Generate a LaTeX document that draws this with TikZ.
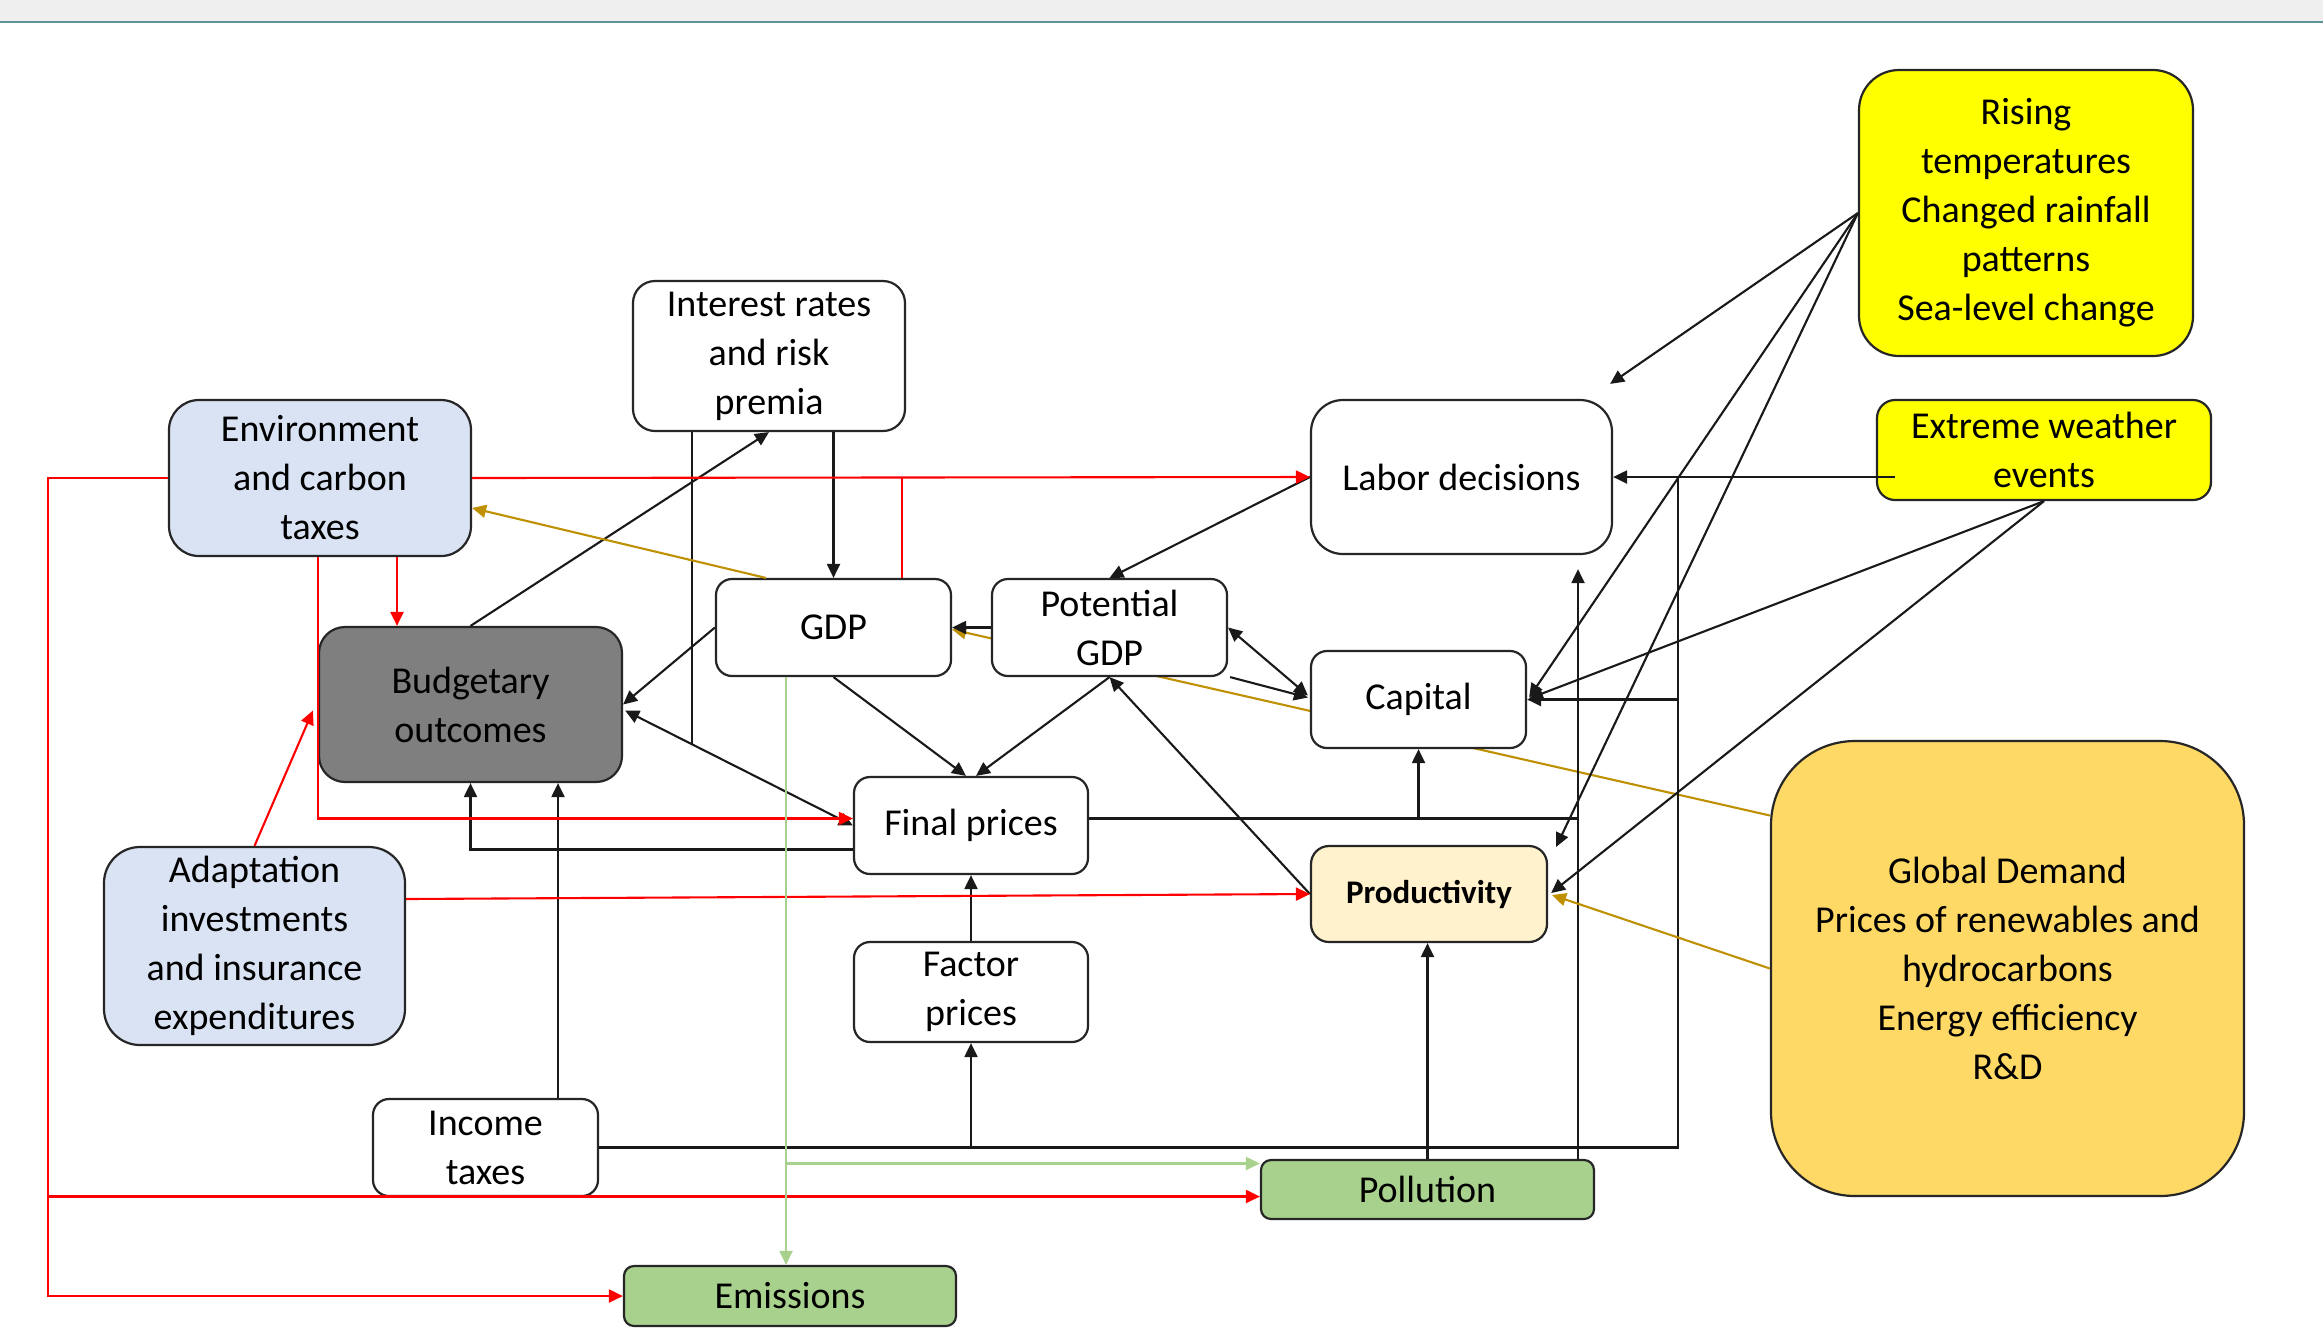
\documentclass[tikz,border=0pt]{standalone}
\usepackage{fontspec}
\setmainfont{Carlito}
\usetikzlibrary{arrows.meta,calc}
\definecolor{topgray}{HTML}{EFEFEF}
\definecolor{topline}{HTML}{5E9494}
\definecolor{envblue}{HTML}{DAE3F3}
\definecolor{budgray}{HTML}{7F7F7F}
\definecolor{yel}{HTML}{FFFF00}
\definecolor{glob}{HTML}{FFD966}
\definecolor{prodc}{HTML}{FFF2CC}
\definecolor{greenbox}{HTML}{A9D18E}
\definecolor{goldc}{HTML}{BF9000}
\definecolor{greenl}{HTML}{A9D18E}
\definecolor{redc}{HTML}{FF0000}
\definecolor{edge}{HTML}{262626}
\newcommand\mainfs{\fontsize{19pt}{24.5pt}\selectfont}
\newcommand\prodfs{\fontsize{16.5pt}{20pt}\selectfont\bfseries}
\pgfdeclarelayer{bg}
\pgfsetlayers{bg,main}
\begin{document}
\begin{tikzpicture}[x=0.5pt,y=-0.5pt,
  box/.style={draw=edge,line width=1.1pt,align=center,inner sep=0pt,font=\mainfs,text=black},
  wh/.style 2 args={minimum width=#1*0.5pt,minimum height=#2*0.5pt},
  tip/.tip={Triangle[length=7pt,width=6.5pt]},
  arr/.style={-tip,line width=1.05pt,draw=black!90},
  darr/.style={tip-tip,line width=1.05pt,draw=black!90},
  plain/.style={line width=1.05pt,draw=black!90},
  rarr/.style={-tip,line width=1.05pt,draw=redc},
  rplain/.style={line width=1.05pt,draw=redc},
  garr/.style={-tip,line width=1.05pt,draw=goldc},
  grarr/.style={-tip,line width=1.05pt,draw=greenl}]

\useasboundingbox (0,0) rectangle (2323,1330);

% helper x positions
\coordinate (xI) at (692,0);
\coordinate (xT) at (558,0);
\coordinate (xP) at (1578,0);
\coordinate (xR) at (1678,0);
\coordinate (xL) at (48,0);
\coordinate (xB) at (397,0);
\coordinate (xG) at (902,0);
\coordinate (xg) at (786,0);
\coordinate (xE) at (1895,0);

% nodes
\node[box,wh={334}{286},rounded corners=20pt,fill=yel] (rising) at (2026,213) {Rising\\temperatures\\Changed rainfall\\patterns\\Sea-level change};
\node[box,wh={334}{100},rounded corners=9pt,fill=yel] (extreme) at (2044,450) {Extreme weather\\events};
\node[box,wh={272}{150},rounded corners=11pt,fill=white] (interest) at (769,356) {Interest rates\\and risk\\premia};
\node[box,wh={302}{156},rounded corners=15pt,fill=envblue] (env) at (320,478) {Environment\\and carbon\\taxes};
\node[box,wh={301}{154},rounded corners=16pt,fill=white] (labor) at (1461.5,477) {Labor decisions};
\node[box,wh={235}{97},rounded corners=8pt,fill=white] (gdp) at (833.5,627.5) {GDP};
\node[box,wh={235}{97},rounded corners=8pt,fill=white] (potential) at (1109.5,627.5) {Potential\\GDP};
\node[box,wh={303}{155},rounded corners=13pt,fill=budgray] (budget) at (470.5,704.5) {Budgetary\\outcomes};
\node[box,wh={215}{97},rounded corners=8pt,fill=white] (capital) at (1418.5,699.5) {Capital};
\node[box,wh={234}{97},rounded corners=8pt,fill=white] (final) at (971,825.5) {Final prices};
\node[box,wh={236}{96},rounded corners=9pt,fill=prodc,font=\prodfs] (productivity) at (1429,894) {Productivity};
\node[box,wh={473}{455},rounded corners=42pt,fill=glob] (global) at (2007.5,968.5) {Global Demand\\Prices of renewables and\\hydrocarbons\\Energy efficiency\\R\&D};
\node[box,wh={301}{198},rounded corners=18pt,fill=envblue] (adapt) at (254.5,946) {Adaptation\\investments\\and insurance\\expenditures};
\node[box,wh={234}{100},rounded corners=8pt,fill=white] (factor) at (971,992) {Factor\\prices};
\node[box,wh={225}{97},rounded corners=8pt,fill=white] (income) at (485.5,1147.5) {Income\\taxes};
\node[box,wh={333}{59},rounded corners=5pt,fill=greenbox] (pollution) at (1427.5,1189.5) {Pollution};
\node[box,wh={332}{60},rounded corners=5pt,fill=greenbox] (emissions) at (790,1296) {Emissions};

% background and gold line behind boxes
\begin{pgfonlayer}{bg}
\fill[white] (0,0) rectangle (2323,1330);
\fill[topgray] (0,0) rectangle (2323,21);
\draw[topline,line width=1.2pt] (0,22) -- (2323,22);
\draw[garr] ($(global.west)+(0,-153)$) -- ($(gdp.east)+(0,2)$);
\end{pgfonlayer}

% named helper points
\coordinate (j1) at (692,745);
\coordinate (fe) at ($(final.east)+(0,-7)$);
\coordinate (fw) at ($(final.west)+(0,-7)$);
\coordinate (pw) at ($(pollution.west)+(0,7)$);
\coordinate (pwg) at ($(pollution.west)+(0,-26)$);

% black connectors
\draw[arr] (interest.south -| gdp.north) -- (gdp.north);
\draw[plain] (interest.south -| xI) -- (j1);
\draw[arr] (budget.north) -- (interest.south);
\draw[arr] (gdp.west) -- (budget.east);
\draw[darr] ($(budget.east)+(2,6)$) -- (final.west);
\draw[arr] ($(final.west)+(0,24)$) -| (budget.south);
\draw[arr] (income.north -| xT) -- (budget.south -| xT);
\draw[arr] (gdp.south) -- ($(final.north)+(-5,0)$);
\draw[arr] (potential.south) -- ($(final.north)+(5,0)$);
\draw[arr] (potential.west) -- (gdp.east);
\draw[arr] (labor.west) -- (potential.north);
\draw[darr] (potential.east) -- ($(capital.west)+(-2,-4)$);
\draw[arr] ($(potential.south east)+(2,0)$) -- ($(capital.west)+(-2,-2)$);
\draw[arr] (productivity.west) -- (potential.south);
\draw[plain] (fe) -- (fe -| xP);
\draw[arr] (capital.south |- fe) -- (capital.south);
\draw[arr] (pollution.north -| xP) -- ($(labor.south -| xP)+(0,14)$);
\draw[arr] (pollution.north) -- (pollution.north |- productivity.south);
\draw[arr] (factor.north) -- (final.south);
\draw[plain] (income.east) -- (income.east -| xR) -- (labor.east -| xR);
\draw[arr] (factor.south |- income.east) -- (factor.south);
\draw[arr] (capital.east -| xR) -- (capital.east);
\draw[arr] (xE |- labor.east) -- (labor.east);
\draw[arr] (rising.west) -- ($(labor.north east)+(-3,-15)$);
\draw[arr] (rising.west) -- ($(capital.east)+(2,-2)$);
\draw[arr] (rising.west) -- ($(productivity.north east)+(8,2)$);
\draw[arr] (extreme.south) -- ($(capital.east)+(2,-1)$);
\draw[arr] (extreme.south) -- ($(productivity.east)+(3,-1)$);

% red connectors
\draw[rarr] (env.east) -- (labor.west);
\draw[rarr] (env.west) -| (xL |- emissions.west) -- (emissions.west);
\draw[rarr] (xL |- pw) -- (pw);
\draw[rarr] (env.south -| xB) -- (budget.north -| xB);
\draw[rarr] (env.south -| budget.west) |- (fw);
\draw[rplain] (env.east -| xG) -- (gdp.north -| xG);
\draw[rarr] (adapt.north) -- ($(budget.west)+(-5,6)$);
\draw[rarr] ($(adapt.east)+(0,-47)$) -- (productivity.west);

% gold connectors
\draw[garr] ($(gdp.north west)+(51,0)$) -- ($(env.east)+(0,30)$);
\draw[garr] (global.west) -- ($(productivity.east)+(4,1)$);

% green connectors
\draw[grarr] (gdp.south -| xg) -- (emissions.north -| xg);
\draw[grarr] (xg |- pwg) -- (pwg);
\end{tikzpicture}
\end{document}
